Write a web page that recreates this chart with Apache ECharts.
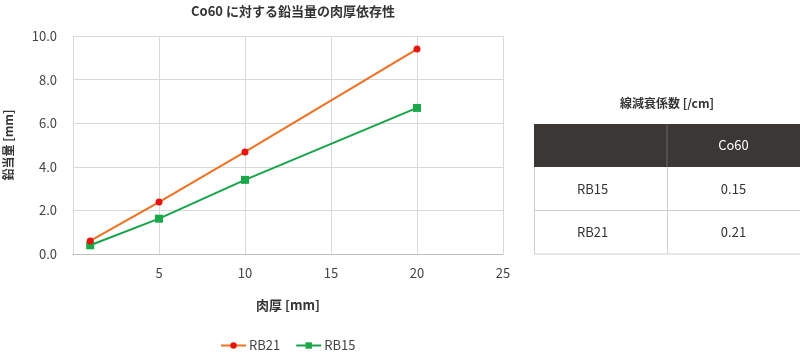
<!DOCTYPE html>
<html>
<head>
<meta charset="utf-8">
<script src="https://cdn.jsdelivr.net/npm/echarts@6/dist/echarts.min.js"></script>
<style>
html,body{margin:0;padding:0;background:#fff;}
#main{width:800px;height:354px;}
</style>
</head>
<body>
<div id="main"></div>
<script>
const chartTitle = 'Co60 に対する鉛当量の肉厚依存性';
const xName = '肉厚 [mm]';
const yName = '鉛当量 [mm]';
const thickness = [1, 5, 10, 20];
const rb21 = [0.6, 2.38, 4.68, 9.4];
const rb15 = [0.4, 1.62, 3.4, 6.7];
const seriesNames = ['RB21', 'RB15'];
const tableTitle = '線減衰係数 [/cm]';
const tableHeader = 'Co60';
const tableRows = ['RB15', 'RB21'];
const tableValues = ['0.15', '0.21'];

const FONT = '"Noto Sans CJK JP", "Noto Sans", sans-serif';
const chart = echarts.init(document.getElementById('main'));

// table geometry
const tL = 534, tR = 800, tMid = 667, hTop = 124, hBot = 167, rowH = 43.5;
const graphics = [];
graphics.push({type:'text', x:(tL+tR)/2, y:103, style:{text:tableTitle, font:'bold 12px ' + FONT, fill:'#333', textAlign:'center', textVerticalAlign:'middle'}});
graphics.push({type:'rect', shape:{x:tL, y:hTop, width:tR-tL, height:hBot-hTop}, style:{fill:'#3b3735'}});
graphics.push({type:'line', shape:{x1:tMid, y1:hTop, x2:tMid, y2:hBot}, style:{stroke:'#6a6664', lineWidth:1}});
graphics.push({type:'text', x:(tMid+tR)/2, y:(hTop+hBot)/2, style:{text:tableHeader, font:'13px ' + FONT, fill:'#fff', textAlign:'center', textVerticalAlign:'middle'}});
tableRows.forEach((r, i) => {
  const y0 = hBot + i*rowH, y1 = y0 + rowH;
  graphics.push({type:'line', shape:{x1:tL, y1:y1, x2:tR, y2:y1}, style:{stroke:'#d0d0d0', lineWidth:1}});
  graphics.push({type:'line', shape:{x1:tL+0.5, y1:y0, x2:tL+0.5, y2:y1}, style:{stroke:'#d0d0d0', lineWidth:1}});
  graphics.push({type:'line', shape:{x1:tMid+0.5, y1:y0, x2:tMid+0.5, y2:y1}, style:{stroke:'#d0d0d0', lineWidth:1}});
  graphics.push({type:'text', x:(tL+tMid)/2 - 8, y:(y0+y1)/2, style:{text:r, font:'13px ' + FONT, fill:'#333', textAlign:'center', textVerticalAlign:'middle'}});
  graphics.push({type:'text', x:(tMid+tR)/2, y:(y0+y1)/2, style:{text:tableValues[i], font:'13px ' + FONT, fill:'#333', textAlign:'center', textVerticalAlign:'middle'}});
});

chart.setOption({
  animation:false,
  textStyle:{fontFamily:FONT},
  title:{text:chartTitle, left:288, top:0, textAlign:'center', textStyle:{fontSize:13, fontWeight:'bold', color:'#333', fontFamily:FONT}},
  grid:{left:73, right:297, top:36, bottom:100, containLabel:false, outerBoundsMode:'none'},
  legend:{top:334, left:215, itemGap:15, itemWidth:25, itemHeight:8,
    data:[{name:'RB21'},{name:'RB15'}],
    textStyle:{fontSize:13, color:'#444', fontFamily:FONT, padding:[0,0,0,-2]}},
  xAxis:{type:'value', min:0, max:25, interval:5, name:xName, nameLocation:'middle', nameGap:45,
    nameTextStyle:{fontSize:13, fontWeight:'bold', color:'#333'},
    axisLine:{show:true, lineStyle:{color:'#bdbdbd'}}, axisTick:{show:false},
    axisLabel:{fontSize:13, color:'#444', margin:13, formatter:v => v === 0 ? '' : String(v)},
    splitLine:{show:true, lineStyle:{color:'#d9d9d9'}}},
  yAxis:{type:'value', min:0, max:10, interval:2, name:yName, nameLocation:'middle', nameGap:59,
    nameTextStyle:{fontSize:12, fontWeight:'bold', color:'#333'},
    axisLine:{show:false}, axisTick:{show:false},
    axisLabel:{fontSize:13, color:'#444', margin:16, formatter:v => v.toFixed(1)},
    splitLine:{show:true, lineStyle:{color:'#d9d9d9'}}},
  series:[
    {name:seriesNames[0], type:'line', data:thickness.map((x,i)=>[x, rb21[i]]),
      symbol:'circle', symbolSize:7, lineStyle:{color:'#f07020', width:2},
      itemStyle:{color:'#e8140c', borderWidth:0}, z:3},
    {name:seriesNames[1], type:'line', data:thickness.map((x,i)=>[x, rb15[i]]),
      symbol:'rect', symbolSize:8, lineStyle:{color:'#16a34a', width:2},
      itemStyle:{color:'#19a94b', borderWidth:0}, z:2}
  ],
  graphic:graphics
});
</script>
</body>
</html>
